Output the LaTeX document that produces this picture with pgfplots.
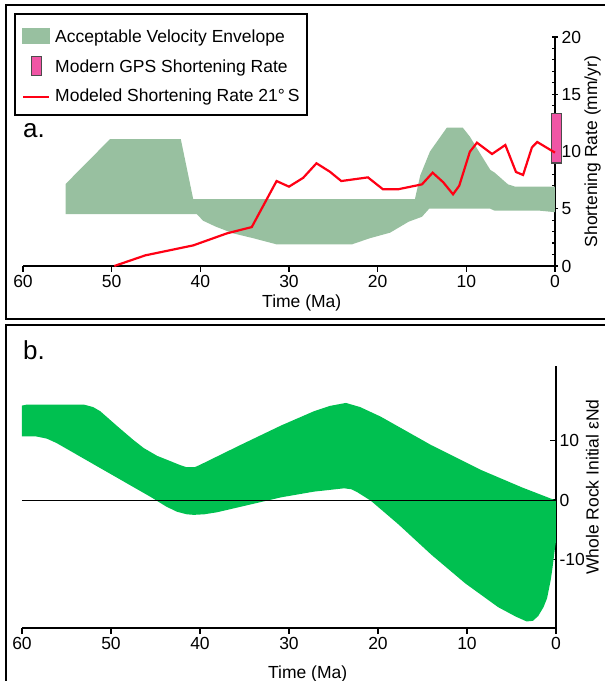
\documentclass[border=0pt]{standalone}
\usepackage{fontspec}
\setmainfont{Liberation Sans}
\usepackage{pgfplots}
\pgfplotsset{compat=1.18}

\definecolor{envgreen}{RGB}{152,192,160}
\definecolor{ndgreen}{RGB}{0,192,80}
\definecolor{gpspink}{RGB}{240,85,165}
\definecolor{modelred}{RGB}{255,0,20}
\newcommand\lblfont{\fontsize{17.5}{21}\selectfont}

\pgfplotsset{
  timeaxis/.style={
    scale only axis,
    x dir=reverse, xmin=0, xmax=60, xtick={0,10,...,60},
    axis x line=bottom, axis y line=right,
    axis line style={-, line width=1.3pt},
    tick style={line width=1.2pt, black},
    tick align=outside,
    tick label style={font=\lblfont},
    /pgf/number format/assume math mode=true,
    clip=false,
  },
}

\begin{document}
\begin{tikzpicture}[x=1pt,y=1pt]

% panel frames
\begin{scope}
  \clip (0,0) rectangle (605,681);
  \draw[line width=2.4pt] (6.2,676) rectangle (630,362);
  \draw[line width=2.4pt] (6.2,356) rectangle (630,-30);
\end{scope}

\node[anchor=base west, inner sep=0pt, font=\fontsize{26}{30}\selectfont] at (23,543.5) {a.};
\node[anchor=base west, inner sep=0pt, font=\fontsize{26}{30}\selectfont] at (23,321) {b.};

% ---------------- a. shortening rate ----------------
\begin{axis}[timeaxis,
  at={(23pt,415pt)}, anchor=south west, width=532pt, height=229pt,
  ymin=0, ymax=20, ytick={0,5,...,20}, minor y tick num=4,
  major tick length=6pt, minor tick length=3pt,
  every major y tick/.append style={xshift=-3pt},
  every minor y tick/.append style={xshift=-3pt},
  yticklabel style={xshift=-3pt},
  every axis y label/.style={at={(axis description cs:1.0705,0.5)}, rotate=90, anchor=center, font=\lblfont},
  ylabel={Shortening Rate (mm/yr)},
  every axis x label/.style={at={(axis description cs:0.524,-0.161)}, anchor=center, font=\lblfont},
  xlabel={Time (Ma)},
  legend cell align=left,
  legend style={at={(axis description cs:-0.0169,1.1048)}, anchor=north west,
    draw=black, line width=2pt, font=\lblfont,
    inner xsep=7pt, inner ysep=13.5pt, row sep=12pt, column sep=5pt,
    nodes={inner sep=0pt, text height=14pt, text depth=0pt}},
]
\addlegendimage{legend image code/.code={\fill[envgreen] (0pt,-7pt) rectangle (26pt,7pt);}}
\addlegendentry{Acceptable Velocity Envelope}
\addlegendimage{legend image code/.code={\filldraw[fill=gpspink, draw=black!70, line width=1.2pt] (8.5pt,-9.5pt) rectangle (18.5pt,9.5pt);}}
\addlegendentry{Modern GPS Shortening Rate}
\addlegendimage{legend image code/.code={\draw[modelred, line width=2.2pt] (0pt,-2.5pt) -- (26pt,-2.5pt);}}
\addlegendentry{Modeled Shortening Rate 21°\,S}

% acceptable velocity envelope: upper edge, then lower edge back
\addplot[fill=envgreen, draw=none, forget plot] coordinates {
  (55.2,7.16) (50.2,11.07) (42.2,11.07) (40.8,5.83) (15.8,5.83)
  (15.2,7.9) (14.1,10.0) (12.2,12.08) (10.4,12.08) (9.6,11.3)
  (8.5,9.9) (7.3,8.4) (6.8,8.15) (5.3,7.13) (4.5,6.93) (0,6.93)
  (0,4.7) (1.7,4.83) (6.8,4.83) (7.3,5.0) (14.2,5.0) (15.0,4.3)
  (16.5,3.87) (18.6,2.91) (20.9,2.42) (22.9,1.89) (31.4,1.89)
  (34.0,2.42) (36.3,2.85) (38.3,3.45) (39.7,3.96) (40.4,4.54) (55.2,4.54)
} -- cycle;

% modern GPS rate
\addplot[fill=gpspink, draw=black!70, line width=1.2pt, forget plot] coordinates {
  (0.4,9.0) (-0.75,9.0) (-0.75,13.3) (0.4,13.3)
} -- cycle;

% modeled shortening rate
\addplot[modelred, line width=2.2pt, forget plot] coordinates {
  (49.7,0) (46.2,0.93) (40.8,1.8) (37.0,2.85) (34.2,3.4) (31.4,7.42)
  (30.0,6.93) (28.4,7.7) (26.9,8.97) (25.4,8.24) (24.1,7.42) (21.1,7.74)
  (19.4,6.7) (17.7,6.7) (15.0,7.13) (13.8,8.15) (12.6,7.31) (11.5,6.26)
  (10.8,7.01) (9.6,9.98) (8.8,10.77) (7.1,9.78) (5.6,10.57) (4.4,8.21)
  (3.6,7.95) (2.6,10.36) (2.0,10.83) (0,9.9)
};
\end{axis}

% ---------------- b. whole rock initial eNd ----------------
\begin{axis}[timeaxis,
  at={(22pt,53pt)}, anchor=south west, width=534pt, height=262pt,
  ymin=-21.5, ymax=22.5, ytick={-10,0,10},
  major tick length=6pt,
  every major y tick/.append style={xshift=-6pt},
  yticklabel style={xshift=-6pt},
  every axis y label/.style={at={(axis description cs:1.068,0.538)}, rotate=90, anchor=center, font=\lblfont},
  ylabel={Whole Rock Initial εNd},
  every axis x label/.style={at={(axis description cs:0.535,-0.176)}, anchor=center, font=\lblfont},
  xlabel={Time (Ma)},
]
\addplot[fill=ndgreen, draw=none] coordinates {
  (60,15.85) (59.5,16.0) (53,16.0) (52,15.6) (51.2,14.9) (49.3,12.4)
  (47.5,10.1) (46.3,8.7) (44.8,7.4) (43.7,6.75) (42.3,5.9) (41.5,5.5)
  (40.6,5.5) (40,5.9) (35.5,9.2) (30.9,12.5) (27.2,14.9) (25.4,15.8)
  (23.6,16.3) (22,15.6) (19.7,14.0) (14.0,9.2) (8.3,4.96) (3.8,2.1) (0,-0.1)
  (0,-6.9) (0.15,-8.5) (0.4,-11.5) (0.6,-13.5) (1.0,-16.5) (1.4,-18)
  (2.0,-19.5) (2.6,-20.3) (3.3,-20.4) (4.5,-19.6) (6.5,-18.0) (10.2,-14.0)
  (14.0,-9.2) (17.7,-4.1) (20.8,-0.13) (22.3,1.28) (23,1.8) (23.8,1.96)
  (27.2,1.4) (30.9,0.44) (38.1,-2.07) (39.5,-2.4) (40.7,-2.5) (41.5,-2.4)
  (42.6,-1.97) (43.8,-1.1) (45.6,0.56) (51.2,5.35) (56.1,9.55) (57.2,10.3)
  (58.5,10.7) (60,10.7)
} -- cycle;
\addplot[black, line width=0.9pt] coordinates {(60,0) (0,0)};
\end{axis}

\pgfresetboundingbox
\useasboundingbox (0,0) rectangle (605,681);
\end{tikzpicture}
\end{document}
